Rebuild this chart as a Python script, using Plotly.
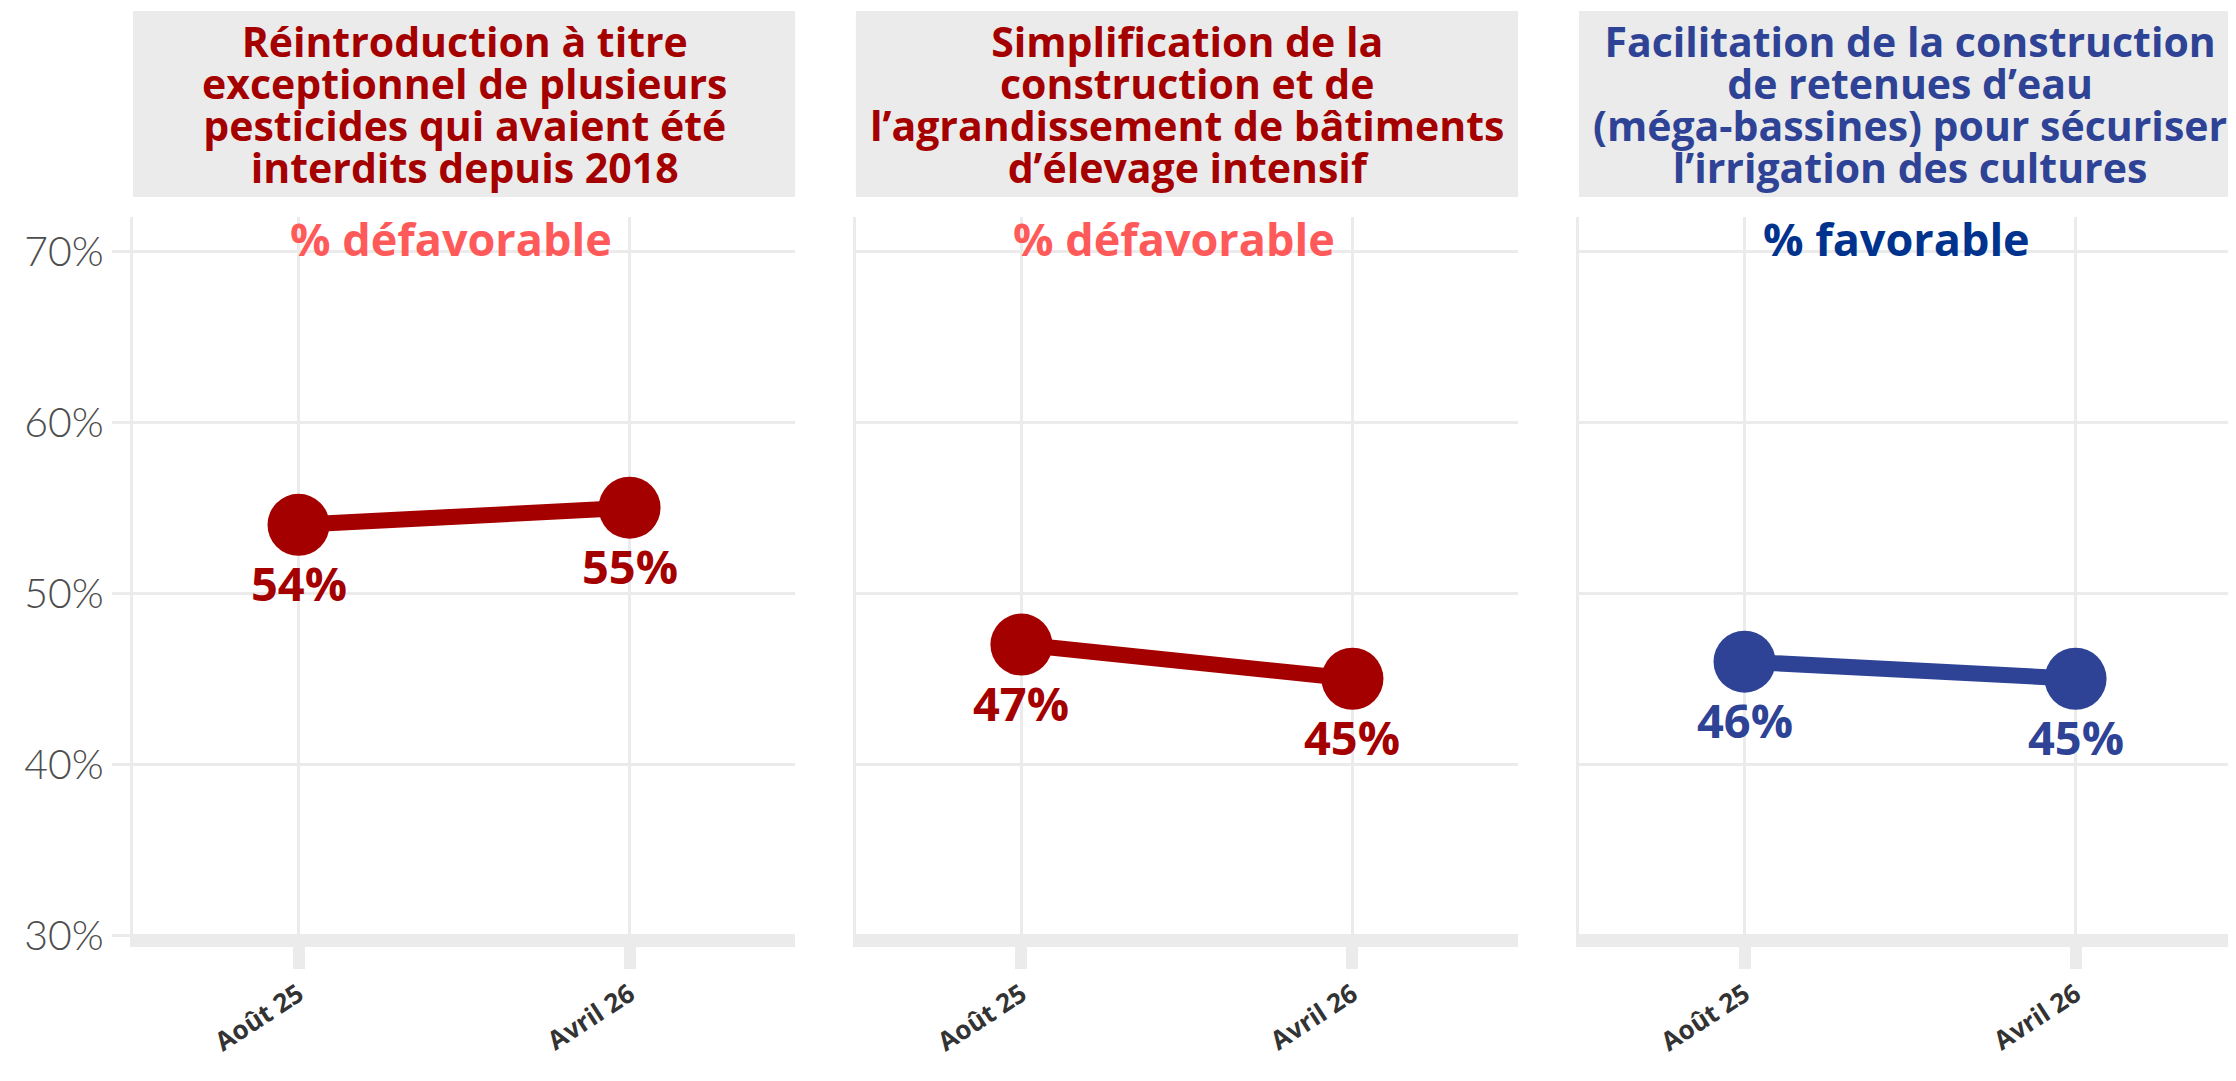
import plotly.graph_objects as go

# données
periods = ["Août 25", "Avril 26"]
titles = [
    ["Réintroduction à titre", "exceptionnel de plusieurs",
     "pesticides qui avaient été", "interdits depuis 2018"],
    ["Simplification de la", "construction et de",
     "l’agrandissement de bâtiments", "d’élevage intensif"],
    ["Facilitation de la construction", "de retenues d’eau",
     "(méga-bassines) pour sécuriser", "l’irrigation des cultures"],
]
subtitles = ["% défavorable", "% défavorable", "% favorable"]
pesticides = [54, 55]
elevage = [47, 45]
bassines = [46, 45]
y_ticks = [30, 40, 50, 60, 70]

series = [pesticides, elevage, bassines]
line_colors = ["#A50000", "#A50000", "#2E4396"]
title_colors = ["#A50000", "#A50000", "#2E4396"]
subtitle_colors = ["#FF5A5A", "#FF5A5A", "#00338D"]
domains = [(0.0559, 0.3520), (0.3792, 0.6753), (0.7026, 0.9987)]

GRID = "#EBEBEB"
BOLD = "Open Sans"

fig = go.Figure()
annotations = []
shapes = []

for i, vals in enumerate(series):
    n = "" if i == 0 else str(i + 1)
    fig.add_trace(
        go.Scatter(
            x=periods, y=vals,
            mode="lines+markers",
            line={"color": line_colors[i], "width": 16},
            marker={"color": line_colors[i], "size": 62},
            xaxis=f"x{n}", yaxis=f"y{n}",
            showlegend=False, hoverinfo="skip",
        ),
    )
    for p, v in zip(periods, vals):
        annotations.append(dict(
            x=p, y=v, xref=f"x{n}", yref=f"y{n}",
            text=f"<b>{v}%</b>", showarrow=False, yshift=-58,
            font={"family": BOLD, "size": 47, "color": line_colors[i]},
        ))
    # bandeau de titre : interligne serré (police de base 32, lignes en 41px)
    shapes.append(dict(
        type="rect", xref=f"x{n} domain", yref="paper",
        x0=0, x1=1, y0=0.8252, y1=0.9972,
        fillcolor=GRID, line={"width": 0}, layer="below",
    ))
    title_html = "<br>".join(
        f"<span style='font-size:41px'>{line}</span>" for line in titles[i]
    )
    annotations.append(dict(
        x=0.5, y=0.9112, xref=f"x{n} domain", yref="paper",
        text=f"<b>{title_html}</b>", showarrow=False,
        xanchor="center", yanchor="middle", align="center",
        font={"family": BOLD, "size": 32.3, "color": title_colors[i]},
    ))
    annotations.append(dict(
        x=0.48, y=0.7872, xref=f"x{n} domain", yref="paper",
        text=f"<b>{subtitles[i]}</b>", showarrow=False,
        xanchor="center", yanchor="middle",
        font={"family": BOLD, "size": 45, "color": subtitle_colors[i]},
    ))

    fig.update_layout({
        f"xaxis{n}": dict(
            domain=list(domains[i]), anchor=f"y{n}",
            type="category", range=[-0.5, 1.5],
            showgrid=True, gridcolor=GRID, gridwidth=3,
            showline=True, linecolor=GRID, linewidth=10,
            ticks="outside", ticklen=22, tickwidth=12, tickcolor=GRID,
            tickangle=-33,
            tickfont={"family": BOLD, "size": 26, "color": "#333333",
                      "weight": "bold"},
            zeroline=False, automargin=False,
        ),
        f"yaxis{n}": dict(
            domain=[0.1406, 0.8067], anchor=f"x{n}",
            range=[29.9, 72], tickvals=y_ticks,
            ticktext=[f"{t}%" for t in y_ticks],
            showticklabels=(i == 0),
            showgrid=True, gridcolor=GRID, gridwidth=3,
            showline=True, linecolor=GRID, linewidth=3,
            ticks="outside" if i == 0 else "", ticklen=18, tickwidth=3,
            tickcolor=GRID, ticklabelstandoff=0,
            tickfont={"family": "Lato", "size": 41, "color": "#4D4D4D",
                      "weight": 300},
            zeroline=False, automargin=False,
        ),
    })

fig.update_layout(
    width=2236, height=1081,
    margin={"l": 0, "r": 0, "t": 0, "b": 0},
    paper_bgcolor="white", plot_bgcolor="white",
    annotations=annotations, shapes=shapes,
)

fig.write_html("out.html")
